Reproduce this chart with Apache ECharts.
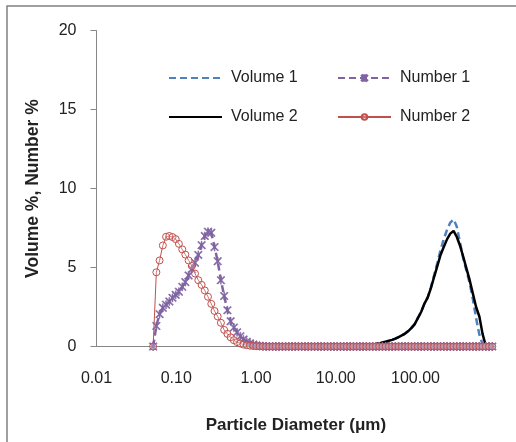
<!DOCTYPE html>
<html><head><meta charset="utf-8">
<script src="https://cdn.jsdelivr.net/npm/echarts@6/dist/echarts.min.js"></script>
<style>html,body{margin:0;padding:0;background:#fff}#c{width:516px;height:442px}</style>
</head><body><div id="c"></div>
<script>
// Particle diameter (µm) of each size class
const sizes = [
0.0513,0.0563,0.0618,0.0679,0.0745,0.0818,0.0897,0.0985,0.108,0.119,
0.130,0.143,0.157,0.172,0.189,0.208,0.228,0.250,0.275,0.302,
0.331,0.363,0.399,0.438,0.481,0.528,0.579,0.636,0.698,0.766,
0.841,0.924,1.01,1.11,1.22,1.34,1.47,1.62,1.77,1.95,
2.14,2.35,2.58,2.83,3.10,3.41,3.74,4.11,4.51,4.95,
5.43,5.96,6.55,7.19,7.89,8.66,9.51,10.4,11.5,12.6,
13.8,15.2,16.6,18.3,20.0,22.0,24.2,26.5,29.1,31.9,
35.1,38.5,42.3,46.4,50.9,55.9,61.4,67.4,74.0,81.2,
89.1,97.8,107,118,129,142,156,171,188,206,
226,249,273,300,329,361,396,435,478,524,
575,632,693,761,836,917];

const volume1 = [
null,null,null,null,null,null,null,null,null,null,
null,null,null,null,null,null,null,null,null,null,
null,null,null,null,null,null,null,null,null,null,
0,0,0,0,0,0,0,0,0,0,
0,0,0,0,0,0,0,0,0,0,
0,0,0,0,0,0,0,0,0,0,
0.01,0.01,0.02,0.03,0.04,0.06,0.08,0.1,0.13,0.16,
0.2,0.25,0.3,0.36,0.42,0.5,0.6,0.7,0.82,0.98,
1.18,1.42,1.8,2.2,2.7,3.1,3.75,4.5,5.3,6.1,
6.8,7.4,7.85,8.05,7.6,6.6,5.6,4.8,4.0,3.0,
1.8,0.75,0.15,0,null,null];

const number1 = [
0,1.3,2.05,2.45,2.65,2.85,3.08,3.27,3.47,3.78,
4.08,4.5,4.9,5.3,5.8,6.42,7.0,7.27,7.2,6.3,
5.4,4.2,3.2,2.3,1.6,1.2,0.9,0.65,0.45,0.3,
0.2,0.12,0.07,0.04,0.02,0.01,0,0,0,0,
0,0,0,0,0,0,0,0,0,0,
0,0,0,0,0,0,0,0,0,0,
0,0,0,0,0,0,0,0,0,0,
0,0,0,0,0,0,0,0,0,0,
0,0,0,0,0,0,0,0,0,0,
0,0,0,0,0,0,0,0,0,0,
0,0,0,0,0,0];

const volume2 = [
null,null,null,null,null,null,null,null,null,null,
null,null,null,null,null,null,null,null,null,null,
null,null,null,null,null,null,null,null,null,null,
0,0,0,0,0,0,0,0,0,0,
0,0,0,0,0,0,0,0,0,0,
0,0,0,0,0,0,0,0,0,0,
0.01,0.01,0.02,0.03,0.04,0.06,0.08,0.1,0.13,0.16,
0.2,0.25,0.3,0.36,0.42,0.5,0.6,0.7,0.82,0.98,
1.18,1.42,1.8,2.2,2.7,3.1,3.7,4.4,5.1,5.8,
6.3,6.8,7.15,7.32,6.95,6.4,5.7,4.95,4.2,3.35,
2.5,1.9,0.8,0.05,null,null];

const number2 = [
0,4.7,5.45,6.4,6.95,7.0,6.93,6.8,6.5,6.15,
5.82,5.45,5.1,4.62,4.2,3.9,3.55,3.15,2.7,2.25,
1.9,1.5,1.05,0.8,0.58,0.4,0.28,0.19,0.12,0.08,
0.05,0.03,0.02,0.01,0,0,0,0,0,0,
0,0,0,0,0,0,0,0,0,0,
0,0,0,0,0,0,0,0,0,0,
0,0,0,0,0,0,0,0,0,0,
0,0,0,0,0,0,0,0,0,0,
0,0,0,0,0,0,0,0,0,0,
0,0,0,0,0,0,0,0,0,0,
0,0,0,0,0,0];

const xTickLabels = ['0.01','0.10','1.00','10.00','100.00'];
const seriesNames = ['Volume 1','Number 1','Volume 2','Number 2'];

function pairs(arr){
  const out = [];
  sizes.forEach((s,i)=>{ if(arr[i] !== null && arr[i] !== undefined) out.push([s, arr[i]]); });
  return out;
}

const FONT = '"Liberation Sans", Arial, sans-serif';
const starPath = 'path://M4.5,0h1v10h-1zM0,1L1,0L10,9L9,10zM9,0L10,1L1,10L0,9z';

function legendAt(name, left, top, hideSymbol){
  const item = hideSymbol ? {name:name, itemStyle:{opacity:0}} : {name:name};
  return {
    data:[item], left:left, top:top, padding:0, itemWidth:53, itemHeight:7,
    textStyle:{fontFamily:FONT, fontSize:16, color:'#222', padding:[0,0,0,4]},
    selectedMode:false
  };
}

const chart = echarts.init(document.getElementById('c'), null, {renderer:'canvas'});
chart.setOption({
  animation:false,
  backgroundColor:'#fff',
  graphic:[{type:'rect', shape:{x:7, y:6, width:700, height:700},
    style:{fill:'none', stroke:'#808080', lineWidth:1.5}, silent:true}],
  grid:{left:96.5, right:20.75, top:30.7, bottom:95.5},
  legend:[
    legendAt(seriesNames[0],168,70,true),
    legendAt(seriesNames[1],337,70,false),
    legendAt(seriesNames[2],168,109,true),
    legendAt(seriesNames[3],337,109,false)
  ],
  xAxis:{
    type:'log', logBase:10, min:0.01, max:1000,
    name:'Particle Diameter (\u03bcm)', nameLocation:'middle', nameGap:70,
    nameTextStyle:{fontFamily:FONT, fontSize:17, fontWeight:'bold', color:'#222'},
    axisLine:{show:true, lineStyle:{color:'#868686', width:1}},
    axisTick:{show:false},
    minorTick:{show:false},
    splitLine:{show:false},
    axisLabel:{fontFamily:FONT, fontSize:16, color:'#222', margin:24,
      formatter:function(v){ const i = Math.round(Math.log10(v)+2); return xTickLabels[i] || ''; }}
  },
  yAxis:{
    type:'value', min:0, max:20, interval:5,
    name:'Volume %, Number %', nameLocation:'middle', nameGap:54, nameRotate:90,
    nameTextStyle:{fontFamily:FONT, fontSize:17.5, fontWeight:'bold', color:'#222'},
    axisLine:{show:true, lineStyle:{color:'#868686', width:1}},
    axisTick:{show:true, length:6, lineStyle:{color:'#868686'}},
    splitLine:{show:false},
    axisLabel:{fontFamily:FONT, fontSize:16, color:'#222', margin:20}
  },
  series:[
    {name:seriesNames[0], type:'line', data:pairs(volume1), showSymbol:false, symbol:'none',
      lineStyle:{color:'#4F81BD', width:2.5, type:[7,4]}, itemStyle:{color:'#4F81BD'}},
    {name:seriesNames[1], type:'line', data:pairs(number1), symbol:starPath, symbolSize:8,
      lineStyle:{color:'#8064A2', width:2.5, type:[7,4]},
      itemStyle:{color:'#8064A2', borderColor:'#8064A2', borderWidth:0.6}},
    {name:seriesNames[2], type:'line', data:pairs(volume2), showSymbol:false, symbol:'none',
      lineStyle:{color:'#000', width:2.5}, itemStyle:{color:'#000'}},
    {name:seriesNames[3], type:'line', data:pairs(number2), symbol:'circle', symbolSize:7,
      lineStyle:{color:'#C0504D', width:1},
      itemStyle:{color:'rgba(255,255,255,0.2)', borderColor:'#C0504D', borderWidth:1}}
  ]
});
</script></body></html>
